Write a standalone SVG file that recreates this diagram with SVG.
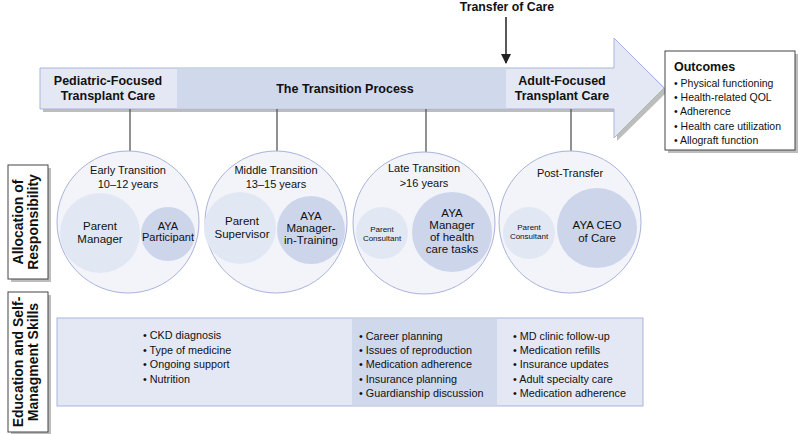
<svg xmlns="http://www.w3.org/2000/svg" width="798" height="434" viewBox="0 0 798 434">
<defs>
<style>
text{font-family:"Liberation Sans",Arial,sans-serif;fill:#111;}
.b{font-weight:bold;}
.hdr{font-size:12.5px;font-weight:bold;text-anchor:middle;}
.lab{font-size:11px;text-anchor:middle;}
.sm{font-size:8px;text-anchor:middle;}
.mid{font-size:11.5px;text-anchor:middle;}
.bul{font-size:10.8px;}
.outer{fill:#f2f4fa;stroke:#aab3da;stroke-width:1;}
.inL{fill:#e2e7f4;}
.inD{fill:#cdd5eb;}
.stem{stroke:#555;stroke-width:1.3;}
.side{fill:#fff;stroke:#444;stroke-width:1;}
.shadow{fill:#bdbdbd;}
.side-t{font-size:14px;font-weight:bold;text-anchor:middle;}
</style>
<marker id="ah" markerWidth="10" markerHeight="10" refX="9" refY="5" orient="auto" markerUnits="userSpaceOnUse">
<path d="M0,0 L10,5 L0,10 z" fill="#222"/>
</marker>
</defs>

<!-- main arrow -->
<g id="arrow">
<path class="shadow" d="M43,71 L617,71 L617,41 L668,91 L617,141 L617,112 L43,112 z"/>
<path d="M40,68 L614,68 L614,38 L664,88 L614,138 L614,109 L40,109 z" fill="#e4e8f5" stroke="#aab3da" stroke-width="1"/>
<rect x="177" y="68.5" width="329" height="40" fill="#d0d8ec"/>
<text class="hdr" x="108" y="85">Pediatric-Focused</text>
<text class="hdr" x="108" y="100">Transplant Care</text>
<text class="hdr" x="345" y="93">The Transition Process</text>
<text class="hdr" x="562" y="85">Adult-Focused</text>
<text class="hdr" x="562" y="100">Transplant Care</text>
</g>

<g id="connectors">
<line class="stem" x1="130" y1="109" x2="130" y2="151"/>
<line class="stem" x1="277" y1="109" x2="277" y2="151"/>
<line class="stem" x1="426" y1="109" x2="426" y2="153"/>
<line class="stem" x1="571" y1="109" x2="571" y2="151"/>
<line x1="506" y1="17" x2="506" y2="63" stroke="#222" stroke-width="1.5" marker-end="url(#ah)"/>
</g>

<g id="transfer">
<text class="b" x="507" y="11" font-size="12.3" text-anchor="middle">Transfer of Care</text>
</g>

<g id="outcomes">
<rect class="shadow" x="668" y="54" width="130" height="99"/>
<rect x="665" y="51" width="130" height="99" fill="#fff" stroke="#444" stroke-width="1"/>
<text class="b" x="674" y="71" font-size="12.5">Outcomes</text>
<text x="674" y="87" font-size="10.5">• Physical functioning</text>
<text x="674" y="101" font-size="10.5">• Health-related QOL</text>
<text x="674" y="115" font-size="10.5">• Adherence</text>
<text x="674" y="130" font-size="10.5">• Health care utilization</text>
<text x="674" y="144" font-size="10.5">• Allograft function</text>
</g>

<g id="alloc-label">
<rect class="shadow" x="11" y="168" width="40" height="114"/>
<rect class="side" x="8" y="165" width="40" height="114"/>
<text class="side-t" transform="translate(23,222) rotate(-90)" >Allocation of</text>
<text class="side-t" transform="translate(38,222) rotate(-90)">Responsibility</text>
</g>

<g id="edu-label">
<rect class="shadow" x="11" y="295" width="40" height="140"/>
<rect class="side" x="8" y="292" width="40" height="140"/>
<text class="side-t" transform="translate(23,362) rotate(-90)">Education and Self-</text>
<text class="side-t" transform="translate(38,362) rotate(-90)">Managment Skills</text>
</g>

<g id="early">
<circle class="outer" cx="128" cy="222" r="71"/>
<circle class="inL" cx="100" cy="233" r="40"/>
<circle class="inD" cx="168" cy="234" r="27"/>
<text class="lab" x="128" y="174">Early Transition</text>
<text class="lab" x="128" y="188">10–12 years</text>
<text class="mid" x="100" y="230">Parent</text>
<text class="mid" x="100" y="243">Manager</text>
<text class="lab" x="168" y="230" font-size="9">AYA</text>
<text class="lab" x="168" y="241" font-size="9">Participant</text>
</g>

<g id="middle">
<circle class="outer" cx="276" cy="222" r="71"/>
<circle class="inL" cx="240" cy="228" r="36"/>
<circle class="inD" cx="311" cy="230" r="34"/>
<text class="lab" x="276" y="174">Middle Transition</text>
<text class="lab" x="276" y="188">13–15 years</text>
<text class="mid" x="242" y="225">Parent</text>
<text class="mid" x="242" y="238">Supervisor</text>
<text class="mid" x="311" y="220">AYA</text>
<text class="mid" x="311" y="232">Manager-</text>
<text class="mid" x="311" y="244">in-Training</text>
</g>

<g id="late">
<circle class="outer" cx="424" cy="223" r="71"/>
<circle class="inL" cx="382" cy="233" r="26"/>
<circle class="inD" cx="452" cy="232" r="40"/>
<text class="lab" x="424" y="172">Late Transition</text>
<text class="lab" x="424" y="187">&gt;16 years</text>
<text class="sm" x="382" y="232">Parent</text>
<text class="sm" x="382" y="241">Consultant</text>
<text class="mid" x="452" y="217">AYA</text>
<text class="mid" x="452" y="229">Manager</text>
<text class="mid" x="452" y="241">of health</text>
<text class="mid" x="452" y="253">care tasks</text>
</g>

<g id="post">
<circle class="outer" cx="570" cy="222" r="71"/>
<circle class="inL" cx="529" cy="233" r="26"/>
<circle class="inD" cx="597" cy="228" r="40"/>
<text class="lab" x="570" y="177">Post-Transfer</text>
<text class="sm" x="529" y="230">Parent</text>
<text class="sm" x="529" y="239">Consultant</text>
<text class="mid" x="597" y="229" font-size="12">AYA CEO</text>
<text class="mid" x="597" y="242" font-size="12">of Care</text>
</g>

<g id="education">
<rect x="57" y="318" width="586" height="88" fill="#e4e8f5" stroke="#aab3da" stroke-width="1"/>
<rect x="352" y="318.5" width="145" height="87" fill="#d0d8ec"/>
<text class="bul" x="143" y="339">• CKD diagnosis</text>
<text class="bul" x="143" y="354">• Type of medicine</text>
<text class="bul" x="143" y="368">• Ongoing support</text>
<text class="bul" x="143" y="383">• Nutrition</text>
<text class="bul" x="359" y="340">• Career planning</text>
<text class="bul" x="359" y="354">• Issues of reproduction</text>
<text class="bul" x="359" y="368">• Medication adherence</text>
<text class="bul" x="359" y="383">• Insurance planning</text>
<text class="bul" x="359" y="397">• Guardianship discussion</text>
<text class="bul" x="513" y="340">• MD clinic follow-up</text>
<text class="bul" x="513" y="354">• Medication refills</text>
<text class="bul" x="513" y="368">• Insurance updates</text>
<text class="bul" x="513" y="383">• Adult specialty care</text>
<text class="bul" x="513" y="397">• Medication adherence</text>
</g>
</svg>
